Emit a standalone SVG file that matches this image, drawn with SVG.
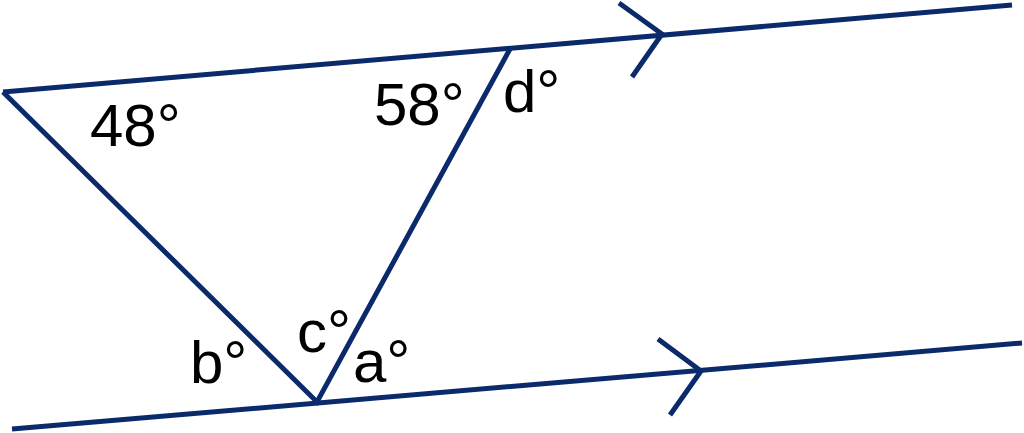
<svg xmlns="http://www.w3.org/2000/svg" width="1024" height="433" viewBox="0 0 1024 433">
<style>
.ln{stroke:#0b2a6b;stroke-width:5;fill:none;stroke-linecap:butt;stroke-linejoin:miter}
.t{font-family:"Liberation Sans",Arial,sans-serif;font-size:60px;fill:#000}
</style>
<rect width="1024" height="433" fill="#fff"/>
<g id="connectors">
<line class="ln" x1="3" y1="92" x2="1012" y2="5"/>
<line class="ln" x1="12" y1="429" x2="1022" y2="343"/>
<polyline class="ln" points="3,92 317,402 510,49"/>
<polyline class="ln" points="619,3 662,34 632,77"/>
<polyline class="ln" points="658,339 701,371 670,415"/>
</g>
<g id="labels">
<text class="t" x="90" y="146">48°</text>
<text class="t" x="374" y="125">58°</text>
<text class="t" x="503" y="112">d°</text>
<text class="t" x="297" y="352">c°</text>
<text class="t" x="190" y="383">b°</text>
<text class="t" x="353" y="382">a°</text>
</g>
</svg>
